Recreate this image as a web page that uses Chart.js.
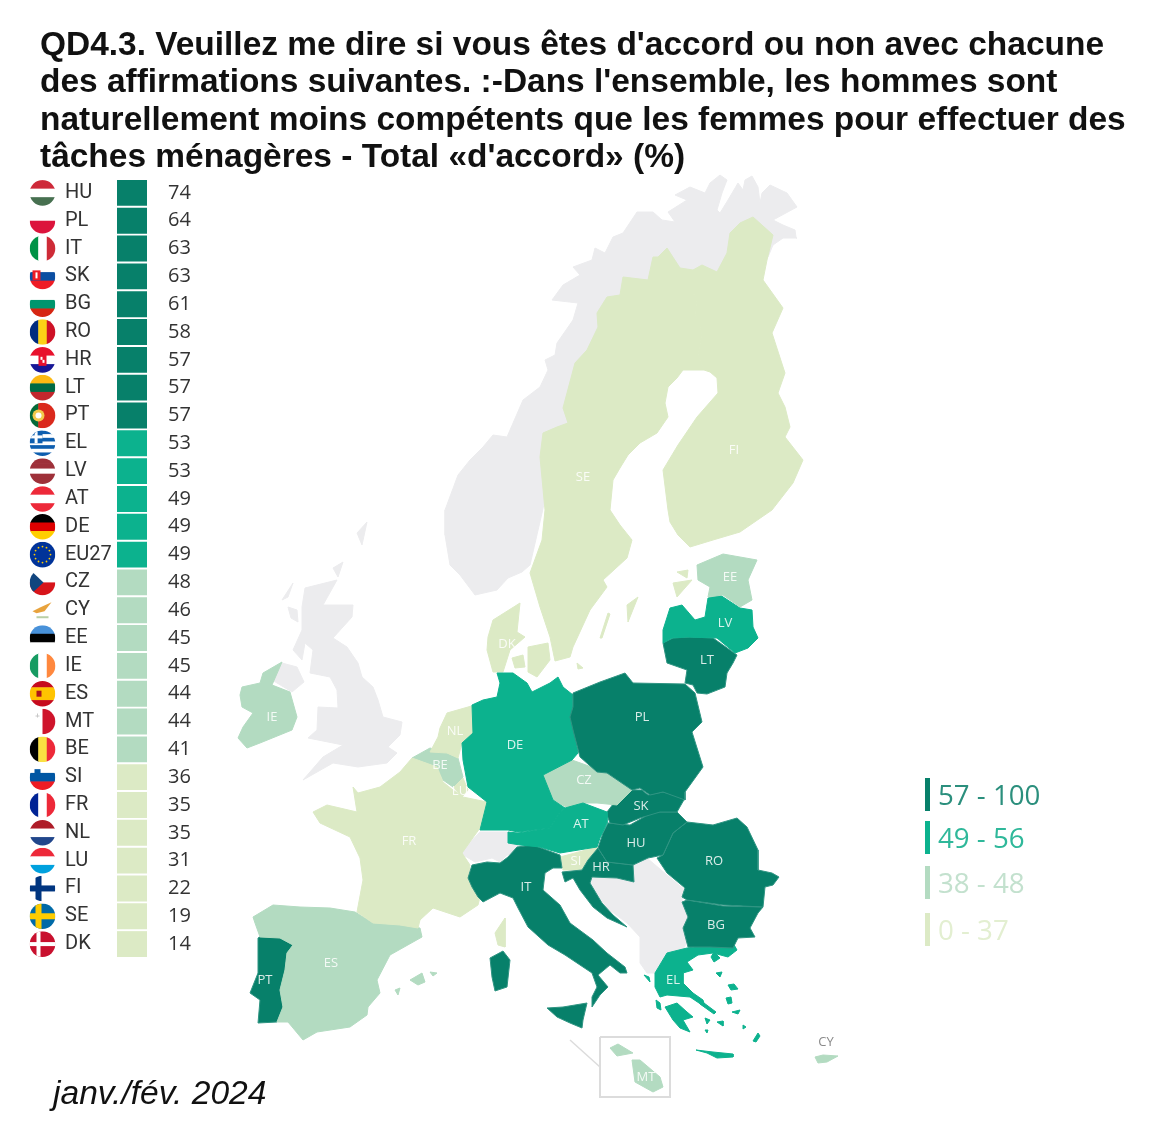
<!DOCTYPE html>
<html lang="fr">
<head>
<meta charset="utf-8">
<title>QD4.3</title>
<script src="https://cdn.jsdelivr.net/npm/chart.js@4/dist/chart.umd.min.js"></script>
<style>
  html, body { margin: 0; padding: 0; background: #fff; }
  #page { position: relative; width: 1149px; height: 1126px; overflow: hidden; }
  #mapChart { position: absolute; left: 0; top: 0; filter: blur(0.5px); }
  #listChart { position: absolute; left: 0; top: 167px; filter: blur(0.4px); }
  #title {
    position: absolute; left: 40px; top: 25px; margin: 0;
    font: bold 33.46px/37.3px "Liberation Sans", Arial, sans-serif;
    color: #111; white-space: pre;
  }
  #date {
    position: absolute; left: 53px; top: 1074px;
    font: italic 33.6px/38px "Liberation Sans", Arial, sans-serif; color: #111;
  }
  .key { position: absolute; left: 925px; height: 33px; border-left: 5px solid; }
  .key span {
    position: absolute; left: 8px; top: -2px;
    font: 27.7px/36px "Open Sans", sans-serif; white-space: nowrap;
  }
</style>
</head>
<body>
<div id="page">
  <canvas id="mapChart" width="1149" height="1126"></canvas>
  <canvas id="listChart" width="215" height="803"></canvas>
  <div id="title"></div>
  <div id="date"></div>
  <div id="keys"></div>
</div>

<script>
  // --- 1. Data ---
  const titleLines = [
    "QD4.3. Veuillez me dire si vous êtes d'accord ou non avec chacune",
    "des affirmations suivantes. :-Dans l'ensemble, les hommes sont",
    "naturellement moins compétents que les femmes pour effectuer des",
    "tâches ménagères - Total «d'accord» (%)"
  ];
  const dateLabel = "janv./fév. 2024";

  const countries = ["HU","PL","IT","SK","BG","RO","HR","LT","PT","EL","LV","AT","DE","EU27",
                     "CZ","CY","EE","IE","ES","MT","BE","SI","FR","NL","LU","FI","SE","DK"];
  const values = [74,64,63,63,61,58,57,57,57,53,53,49,49,49,48,46,45,45,44,44,41,36,35,35,31,22,19,14];

  const binLabels = ["57 - 100","49 - 56","38 - 48","0 - 37"];
  const binFloors = [57,49,38,0];

  // --- 2. Map geography (outlines traced in map units, one list per island/region) ---
  const outlineNoOutside = [
    [[796,237],[795,230],[783,225],[773,220],[797,207],[787,193],[770,185],[762,193],[760,203],[758,187],[752,176],[745,180],[743,190],[738,183],[728,200],[720,213],[717,210],[722,193],[727,180],[720,175],[710,183],[705,193],[690,187],[675,195],[687,200],[668,212],[675,222],[662,220],[653,212],[637,212],[623,233],[613,237],[605,253],[595,248],[592,260],[573,267],[580,275],[563,285],[552,300],[578,303],[573,320],[557,343],[555,355],[545,360],[548,370],[540,387],[523,400],[507,437],[493,435],[483,447],[470,460],[458,475],[445,510],[445,535],[450,565],[460,575],[475,595],[497,590],[508,578],[522,572],[530,565],[545,500],[600,400],[680,300],[768,257],[773,245],[783,238],[797,238]],
    [[272,680],[282,663],[297,667],[304,682],[292,692]],
    [[305,588],[337,580],[323,605],[353,605],[352,617],[333,638],[347,647],[358,663],[362,677],[373,687],[378,700],[383,717],[402,722],[400,735],[388,747],[397,753],[387,763],[358,767],[333,763],[303,780],[323,757],[343,745],[308,738],[317,730],[318,707],[338,708],[337,690],[330,677],[310,673],[313,650],[305,643],[302,660],[293,650],[302,630],[302,607]],
    [[282,600],[293,583],[288,597]],
    [[288,607],[297,610],[298,622],[291,618]],
    [[333,568],[343,562],[338,577]],
    [[357,533],[367,522],[362,545]],
    [[460,853],[480,832],[508,832],[518,845],[513,855],[507,855],[500,862],[492,858],[475,862]],
    [[590,878],[617,878],[633,882],[633,865],[647,858],[667,875],[685,890],[682,900],[688,917],[683,930],[688,940],[683,950],[667,953],[655,973],[647,973],[640,963],[640,937],[627,923],[607,908],[593,888]]
  ];

  const outlines = {
    SE: [
      [[653,257],[658,257],[677,277],[690,287],[697,300],[695,313],[702,333],[698,355],[704,370],[683,370],[677,378],[668,387],[665,403],[668,417],[657,433],[640,443],[628,455],[620,468],[613,480],[610,510],[620,525],[632,540],[627,558],[603,580],[607,587],[590,610],[573,647],[570,657],[555,661],[550,637],[540,607],[530,573],[542,540],[545,510],[540,457],[543,433],[557,427],[568,423],[563,408],[575,363],[587,350],[598,327],[597,313],[607,297],[620,295],[623,277],[648,280]],
      [[627,605],[638,597],[628,622]],
      [[608,613],[610,614],[602,638],[600,638]]
    ],
    FI: [
      [[753,217],[773,235],[767,260],[763,280],[783,308],[772,333],[785,373],[778,393],[785,407],[790,427],[785,437],[803,460],[793,483],[772,510],[740,532],[713,540],[690,547],[678,535],[670,522],[668,510],[663,470],[678,445],[697,417],[718,393],[717,378],[710,372],[704,370],[698,355],[702,333],[695,313],[697,300],[690,287],[677,277],[658,257],[667,248],[680,268],[693,270],[702,265],[717,272],[727,253],[730,233],[740,223]],
      [[673,583],[692,580],[677,597]],
      [[677,572],[688,570],[687,578]]
    ],
    EE: [[[697,565],[723,554],[757,560],[748,580],[752,600],[740,607],[723,595],[708,597],[710,587],[698,580]]],
    LV: [[[663,630],[670,608],[682,605],[695,620],[705,617],[708,598],[720,595],[740,608],[752,610],[753,627],[758,638],[748,648],[735,653],[717,638],[687,637],[672,638],[663,643]]],
    LT: [[[663,643],[673,638],[690,637],[713,638],[737,655],[733,663],[727,673],[725,687],[707,694],[697,693],[693,685],[685,683],[687,670],[667,663]]],
    PL: [[[573,693],[600,682],[625,673],[633,683],[685,684],[695,693],[702,722],[692,732],[703,767],[685,792],[685,800],[663,792],[650,795],[640,788],[632,790],[607,773],[597,772],[580,757],[573,730],[570,717],[573,707]]],
    DE: [[[497,673],[513,673],[527,683],[532,692],[550,683],[558,677],[563,687],[573,695],[572,720],[578,753],[572,760],[543,775],[553,800],[565,808],[560,812],[550,828],[518,832],[508,830],[480,830],[487,802],[468,787],[463,760],[462,743],[473,733],[472,705],[483,700],[497,697],[500,683]]],
    AT: [[[508,832],[518,833],[550,828],[560,812],[565,808],[583,803],[607,812],[607,823],[600,838],[597,847],[560,853],[540,847],[520,845],[508,843]]],
    CZ: [[[543,775],[572,760],[600,770],[607,773],[632,790],[617,805],[597,803],[580,803],[572,810],[553,800]]],
    SK: [[[607,812],[620,795],[632,790],[642,790],[648,795],[663,792],[685,798],[677,812],[660,812],[640,818],[623,825],[610,823],[607,815]]],
    HU: [[[608,823],[630,825],[653,812],[677,812],[687,822],[673,833],[663,855],[648,858],[633,865],[607,862],[598,848],[603,833]]],
    RO: [[[687,822],[713,825],[737,818],[747,827],[758,850],[758,870],[772,873],[779,877],[773,885],[765,887],[763,907],[723,905],[687,900],[682,897],[685,888],[667,873],[657,858],[663,855],[673,833]]],
    BG: [[[687,900],[723,906],[763,907],[758,913],[750,928],[755,937],[738,938],[733,948],[710,947],[688,947],[683,928],[688,917],[682,902]]],
    EL: [
      [[655,973],[667,953],[687,948],[710,945],[733,943],[737,950],[728,957],[713,953],[698,955],[687,962],[693,970],[683,973],[683,983],[693,993],[703,1000],[705,1007],[690,997],[667,995],[660,997],[655,987]],
      [[665,1007],[677,1003],[687,1012],[693,1017],[683,1020],[690,1032],[680,1028],[673,1020]],
      [[696,1050],[713,1052],[733,1054],[733,1057],[717,1058],[707,1053]],
      [[728,985],[734,984],[738,989],[731,990]],
      [[726,998],[731,997],[732,1003],[728,1004]],
      [[753,1041],[758,1033],[760,1036],[756,1042]],
      [[714,952],[720,958],[714,962],[711,957]],
      [[716,973],[722,972],[720,977]],
      [[700,1000],[716,1012],[714,1014],[700,1004]],
      [[705,1018],[710,1020],[707,1024]],
      [[717,1022],[723,1021],[723,1026]],
      [[732,1012],[740,1010],[738,1014]],
      [[743,1025],[746,1027],[743,1029]],
      [[705,1030],[708,1030],[707,1033]],
      [[656,1000],[660,1003],[661,1010],[657,1008]],
      [[644,975],[649,977],[650,982]]
    ],
    IT: [
      [[472,865],[487,862],[500,863],[508,857],[517,847],[533,845],[560,855],[562,868],[553,868],[545,873],[543,890],[560,905],[570,923],[593,940],[607,953],[625,967],[627,973],[620,973],[610,965],[598,975],[608,987],[600,995],[592,1007],[592,997],[597,987],[592,973],[565,955],[548,945],[528,927],[518,908],[513,898],[500,893],[483,902],[478,897],[472,887],[468,878]],
      [[547,1008],[563,1007],[587,1003],[583,1020],[582,1028],[570,1023],[557,1017]],
      [[490,958],[503,951],[510,960],[507,987],[495,991],[492,977]]
    ],
    FR: [
      [[313,812],[327,805],[357,812],[353,787],[358,793],[380,787],[400,772],[412,758],[437,767],[443,782],[453,790],[463,797],[487,802],[480,828],[462,853],[470,865],[468,880],[480,897],[478,905],[460,917],[433,908],[420,920],[418,928],[400,925],[373,923],[357,912],[363,880],[360,858],[350,837],[320,823]],
      [[495,933],[505,918],[505,947],[498,945]]
    ],
    ES: [
      [[253,917],[273,905],[300,907],[330,908],[355,912],[373,923],[400,925],[420,928],[422,937],[390,955],[377,980],[380,993],[368,1007],[367,1015],[350,1027],[317,1032],[303,1040],[288,1022],[277,1022],[283,1007],[280,990],[285,970],[287,953],[293,945],[280,938],[260,937],[255,923]],
      [[410,980],[422,973],[425,982],[418,985]],
      [[430,972],[437,973],[433,976]],
      [[395,990],[400,988],[398,995]]
    ],
    PT: [[[258,938],[263,935],[280,938],[293,945],[287,953],[285,970],[280,990],[283,1007],[277,1022],[258,1023],[260,1000],[250,993],[258,973]]],
    IE: [[[242,687],[260,683],[263,673],[282,662],[272,685],[290,692],[297,717],[292,730],[260,743],[247,748],[238,738],[243,727],[253,713],[242,707],[240,695]]],
    DK: [
      [[488,637],[493,620],[520,603],[517,632],[525,637],[510,650],[503,672],[493,672],[487,650]],
      [[512,658],[523,655],[525,667],[515,668]],
      [[528,647],[548,643],[550,660],[537,677],[528,672]],
      [[577,663],[583,668],[578,669]]
    ],
    NL: [[[440,728],[447,713],[475,705],[473,733],[462,743],[458,758],[447,753],[430,752],[438,737]]],
    BE: [[[412,758],[430,748],[447,753],[458,758],[463,777],[453,787],[443,780],[437,767]]],
    LU: [[[453,787],[463,778],[468,790],[462,797]]],
    HR: [[[598,848],[607,862],[633,865],[634,882],[617,878],[592,877],[590,883],[602,903],[613,915],[627,927],[607,918],[593,907],[580,890],[573,878],[565,882],[562,872],[582,870],[588,860]]],
    SI: [[[560,857],[597,847],[598,850],[588,860],[583,870],[563,870]]],
    CY: [[[815,1057],[823,1055],[838,1056],[827,1062],[818,1063]]],
    MT: [
      [[610,1048],[618,1044],[633,1053],[617,1056]],
      [[632,1060],[640,1060],[660,1077],[663,1087],[653,1092],[635,1082]]
    ]
  };

  const maltaInset = [[600,1037],[670,1037],[670,1097],[600,1097],[600,1037]];
  const maltaLeader = [[570,1040],[600,1067]];

  const mapLabels = [
    ["SE",583,477],["FI",734,450],["EE",730,577],["LV",725,623],["LT",707,660],["DK",507,644],
    ["IE",272,717],["NL",455,731],["BE",440,765],["LU",460,791],["DE",515,745],["PL",642,717],
    ["CZ",584,780],["AT",581,824],["SK",641,806],["HU",636,843],["RO",714,861],["BG",716,925],
    ["SI",576,861],["HR",601,867],["FR",409,841],["IT",526,887],["ES",331,963],["PT",265,980],
    ["EL",673,980],["MT",646,1077],["CY",826,1042]
  ];

  // --- 3. Styles ---
  const binColors = ["#07806a","#0cb28e","#b3dbc1","#dceac5"];
  const binEdges = ["#2f9482","#0cb28e","#b3dbc1","#dceac5"];
  const keyTextColors = ["#2b8f7d","#2fb89a","#c3e1ce","#e3efd1"];
  const noDataColor = "#ececee";

  const binIndex = v => binFloors.findIndex(f => v >= f);
  const valueOf = code => values[countries.indexOf(code)];

  // Flags: stripes are [h|v, colours...], extra is drawn on top
  const flags = {
    HU: ["h","#ce2939","#fff","#477050"], PL: ["h","#fff","#dc143c"], IT: ["v","#009246","#fff","#ce2b37"],
    SK: ["h","#fff","#0b4ea2","#ee1c25"], BG: ["h","#fff","#00966e","#d62612"], RO: ["v","#002b7f","#fcd116","#ce1126"],
    HR: ["h","#e8112d","#fff","#171796"], LT: ["h","#fdb913","#006a44","#c1272d"], PT: ["v","#046a38","#da291c","#da291c"],
    EL: ["h","#0d5eaf","#fff","#0d5eaf","#fff","#0d5eaf","#fff","#0d5eaf"], LV: ["h","#9e3039","#9e3039","#fff","#9e3039","#9e3039"],
    AT: ["h","#ed2939","#fff","#ed2939"], DE: ["h","#000","#dd0000","#ffce00"], EU27: ["h","#003399"],
    CZ: ["h","#fff","#d7141a"], CY: ["h","#fff"], EE: ["h","#4891d9","#000","#fff"], IE: ["v","#169b62","#fff","#ff883e"],
    ES: ["h","#c60b1e","#ffc400","#ffc400","#c60b1e"], MT: ["v","#fff","#cf142b"], BE: ["v","#000","#fae042","#ed2939"],
    SI: ["h","#fff","#0056a3","#ed1c24"], FR: ["v","#002395","#fff","#ed2939"], NL: ["h","#ae1c28","#fff","#21468b"],
    LU: ["h","#ed2939","#fff","#00a1de"], FI: ["h","#fff"], SE: ["h","#006aa7"], DK: ["h","#c8102e"]
  };

  function drawFlagExtras(ctx, code, cx, cy, r) {
    const bar = (color, x, y, w, h) => { ctx.fillStyle = color; ctx.fillRect(x, y, w, h); };
    if (code === "FI") {
      bar("#003580", cx - r, cy - 3, 2 * r, 6); bar("#003580", cx - 7, cy - r, 6, 2 * r);
    } else if (code === "SE") {
      bar("#fecc00", cx - r, cy - 3, 2 * r, 6); bar("#fecc00", cx - 7, cy - r, 6, 2 * r);
    } else if (code === "DK") {
      bar("#fff", cx - r, cy - 2, 2 * r, 4); bar("#fff", cx - 6, cy - r, 4, 2 * r);
    } else if (code === "EL") {
      bar("#0d5eaf", cx - r, cy - r, r, r); bar("#fff", cx - r, cy - r / 2 - 1.5, r, 3); bar("#fff", cx - r / 2 - 1.5, cy - r, 3, r);
    } else if (code === "PT") {
      ctx.fillStyle = "#f2c94c"; ctx.beginPath(); ctx.arc(cx - 4, cy, 6, 0, 7); ctx.fill();
      ctx.fillStyle = "#fff"; ctx.beginPath(); ctx.arc(cx - 4, cy, 3, 0, 7); ctx.fill();
    } else if (code === "EU27") {
      ctx.fillStyle = "#ffcc00";
      for (let i = 0; i < 12; i++) {
        ctx.beginPath();
        ctx.arc(cx + 8 * Math.cos(i * Math.PI / 6), cy + 8 * Math.sin(i * Math.PI / 6), 0.9, 0, 7);
        ctx.fill();
      }
    } else if (code === "CZ") {
      ctx.fillStyle = "#11457e"; ctx.beginPath();
      ctx.moveTo(cx - r, cy - r); ctx.lineTo(cx + 1, cy); ctx.lineTo(cx - r, cy + r); ctx.fill();
    } else if (code === "SK") {
      bar("#ee1c25", cx - 10, cy - 6, 8, 10); bar("#fff", cx - 7, cy - 4, 2, 6);
    } else if (code === "SI") {
      bar("#0056a3", cx - 8, cy - 8, 6, 6);
    } else if (code === "HR") {
      bar("#e8112d", cx - 4, cy - 5, 8, 11); bar("#fff", cx - 2, cy - 3, 2, 3); bar("#fff", cx, cy, 2, 3);
    } else if (code === "ES") {
      bar("#ad1519", cx - 6, cy - 3, 5, 6);
    } else if (code === "MT") {
      bar("#c8c8c8", cx - 7, cy - 6, 4, 1); bar("#c8c8c8", cx - 5.5, cy - 8, 1, 4);
    } else if (code === "CY") {
      ctx.fillStyle = "#e8a33d"; ctx.beginPath();
      ctx.moveTo(cx - 10, cy + 1); ctx.lineTo(cx - 2, cy - 3); ctx.lineTo(cx + 9, cy - 8); ctx.lineTo(cx + 2, cy + 1); ctx.lineTo(cx - 6, cy + 3); ctx.fill();
      bar("#b9cfa6", cx - 6, cy + 6, 12, 2);
    }
  }

  const flagPlugin = {
    id: "flags",
    afterDraw(chart) {
      const { ctx } = chart;
      const yScale = chart.scales.y;
      const cx = 42.5, r = 12.8;
      countries.forEach((code, i) => {
        const cy = yScale.getPixelForValue(i);
        const [dir, ...stripes] = flags[code];
        ctx.save();
        ctx.beginPath();
        ctx.arc(cx, cy, r, 0, Math.PI * 2);
        ctx.clip();
        stripes.forEach((color, k) => {
          ctx.fillStyle = color;
          if (dir === "h") ctx.fillRect(cx - r, cy - r + k * 2 * r / stripes.length, 2 * r, 2 * r / stripes.length + 0.5);
          else ctx.fillRect(cx - r + k * 2 * r / stripes.length, cy - r, 2 * r / stripes.length + 0.5, 2 * r);
        });
        drawFlagExtras(ctx, code, cx, cy, r);
        ctx.restore();
      });
    }
  };

  const labelPlugin = {
    id: "mapLabels",
    afterDraw(chart) {
      const { ctx, scales } = chart;
      ctx.save();
      ctx.font = '13px "Open Sans", sans-serif';
      ctx.textAlign = "center";
      ctx.textBaseline = "middle";
      mapLabels.forEach(([code, lx, ly]) => {
        ctx.fillStyle = code === "CY" ? "#8a8a8a" : "rgba(255,255,255,0.85)";
        ctx.fillText(code, scales.x.getPixelForValue(lx), scales.y.getPixelForValue(ly));
      });
      ctx.restore();
    }
  };

  // --- 4. Text and legend ---
  document.getElementById("title").textContent = titleLines.join("\n");
  document.getElementById("date").textContent = dateLabel;

  const keyTops = [778, 821, 866, 913];
  document.getElementById("keys").innerHTML = binLabels.map((label, i) => `
    <div class="key" style="top:${keyTops[i]}px;border-color:${binColors[i]}">
      <span style="color:${keyTextColors[i]}">${label}</span>
    </div>`).join("");

  // --- 5. Ranked list (bars clamped to the smallest value so every cell fills the strip) ---
  const codeFont = { family: 'Roboto, sans-serif', size: 20 };
  const valueFont = { family: '"Open Sans", sans-serif', size: 20 };

  new Chart(document.getElementById("listChart"), {
    type: "bar",
    data: {
      labels: countries,
      datasets: [{
        data: values,
        backgroundColor: values.map(v => binColors[binIndex(v)]),
        barPercentage: 0.93,
        categoryPercentage: 1
      }]
    },
    options: {
      indexAxis: "y",
      responsive: false,
      animation: false,
      devicePixelRatio: 1,
      layout: { padding: { left: 65 } },
      plugins: { legend: { display: false }, tooltip: { enabled: false } },
      scales: {
        x: { display: false, min: 0, max: Math.min(...values) },
        y: {
          grid: { display: false, drawTicks: false },
          border: { display: false },
          ticks: { color: "#333", font: codeFont, padding: 0, crossAlign: "far", autoSkip: false },
          afterFit(scale) { scale.width = 52; }
        },
        yValues: {
          type: "category",
          position: "right",
          labels: values.map(String),
          offset: true,
          grid: { display: false, drawTicks: true, tickLength: 21 },
          border: { display: false },
          ticks: { color: "#333", font: valueFont, padding: 0, autoSkip: false },
          afterFit(scale) { scale.width = 68; }
        }
      }
    },
    plugins: [flagPlugin]
  });

  // --- 6. Map (first dataset is painted last, so no-data land goes at the end) ---
  const closeRing = ring => [...ring, ring[0]].map(([x, y]) => ({ x, y }));

  function shapeDataset(ring, fill, edge) {
    return {
      data: closeRing(ring),
      showLine: true,
      fill: "shape",
      backgroundColor: fill,
      borderColor: edge,
      borderWidth: 1,
      pointRadius: 0,
      tension: 0
    };
  }

  const mapDatasets = [
    { data: closeRing(maltaInset).slice(0, 5), showLine: true, fill: false, borderColor: "#dcdcdc", borderWidth: 2, pointRadius: 0 },
    { data: maltaLeader.map(([x, y]) => ({ x, y })), showLine: true, fill: false, borderColor: "#dcdcdc", borderWidth: 1.5, pointRadius: 0 },
    ...Object.entries(outlines).flatMap(([code, rings]) => {
      const bin = binIndex(valueOf(code));
      return rings.map(ring => shapeDataset(ring, binColors[bin], binEdges[bin]));
    }),
    ...outlineNoOutside.map(ring => shapeDataset(ring, noDataColor, noDataColor))
  ];

  new Chart(document.getElementById("mapChart"), {
    type: "scatter",
    data: { datasets: mapDatasets },
    options: {
      responsive: false,
      animation: false,
      devicePixelRatio: 1,
      layout: { padding: 0 },
      plugins: { legend: { display: false }, tooltip: { enabled: false } },
      scales: {
        x: { display: false, min: 0, max: 1149 },
        y: { display: false, min: 0, max: 1126, reverse: true }
      }
    },
    plugins: [labelPlugin]
  });
</script>
</body>
</html>
